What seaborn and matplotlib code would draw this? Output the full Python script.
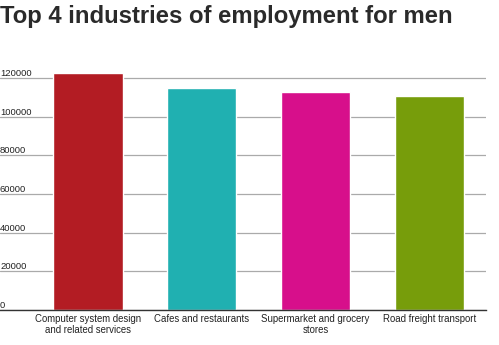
import matplotlib
matplotlib.use("Agg")
import matplotlib.pyplot as plt
import seaborn as sns
import pandas as pd

categories = ["Computer system design\nand related services", "Cafes and restaurants",
              "Supermarket and grocery\nstores", "Road freight transport"]
values = [122300, 114800, 112900, 110500]
colors = ["#B31C23", "#20B0B1", "#D70F8B", "#779D0B"]
yticks = [0, 20000, 40000, 60000, 80000, 100000, 120000]

sns.set_theme(style="white")
plt.rcParams["font.family"] = ["Liberation Sans", "DejaVu Sans"]

df = pd.DataFrame({"industry": categories, "employed": values})

fig = plt.figure(figsize=(4.99, 3.45), dpi=100)
ax = fig.add_axes([0.0, 0.1014, 0.974, 0.729])

sns.barplot(data=df, x="industry", y="employed", hue="industry", palette=colors,
            width=0.61, legend=False, ax=ax, saturation=1)

ax.set_xlim(-0.775, 3.5)
ax.set_ylim(0, 130000)
ax.set_yticks(yticks)
ax.set_yticklabels([str(v) for v in yticks])
ax.yaxis.grid(True, color="#aaaaaa", linewidth=0.9)
ax.set_axisbelow(True)
for s in ["top", "right", "left"]:
    ax.spines[s].set_visible(False)
ax.spines["bottom"].set_color("#333333")
ax.spines["bottom"].set_linewidth(1.0)
ax.tick_params(axis="y", length=0, pad=0, labelsize=6.8, labelcolor="#222222")
ax.tick_params(axis="x", length=0, pad=3, labelsize=6.9, labelcolor="#222222")
for lab in ax.get_yticklabels():
    lab.set_ha("left")
    lab.set_va("bottom")
for lab in ax.get_xticklabels():
    lab.set_linespacing(1.1)
ax.set_xlabel("")
ax.set_ylabel("")

fig.text(0.0, 0.985, "Top 4 industries of employment for men", fontsize=17.2,
         fontweight="bold", color="#2a2a2a", ha="left", va="top")

fig.savefig("out.png", dpi=100)
